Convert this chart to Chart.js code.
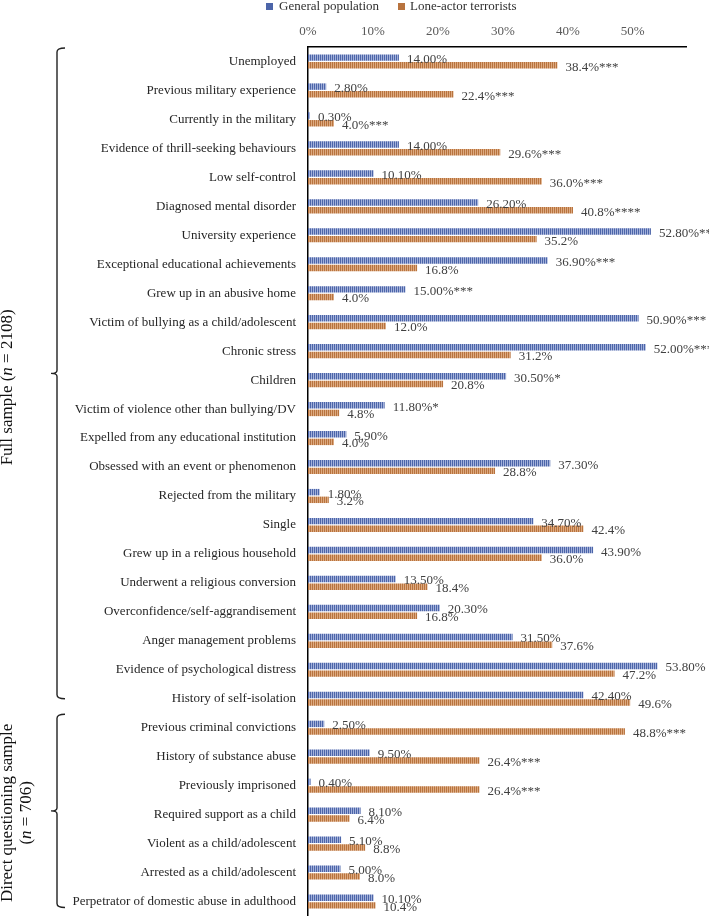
<!DOCTYPE html>
<html>
<head>
<meta charset="utf-8">
<script src="https://cdn.jsdelivr.net/npm/chart.js@4"></script>
<style>
  html, body { margin: 0; padding: 0; background: #fff; overflow: hidden; }
  canvas { display: block; }
</style>
</head>
<body>
<canvas id="chart" width="709" height="916"></canvas>
<script>
const categories = [
  "Unemployed",
  "Previous military experience",
  "Currently in the military",
  "Evidence of thrill-seeking behaviours",
  "Low self-control",
  "Diagnosed mental disorder",
  "University experience",
  "Exceptional educational achievements",
  "Grew up in an abusive home",
  "Victim of bullying as a child/adolescent",
  "Chronic stress",
  "Children",
  "Victim of violence other than bullying/DV",
  "Expelled from any educational institution",
  "Obsessed with an event or phenomenon",
  "Rejected from the military",
  "Single",
  "Grew up in a religious household",
  "Underwent a religious conversion",
  "Overconfidence/self-aggrandisement",
  "Anger management problems",
  "Evidence of psychological distress",
  "History of self-isolation",
  "Previous criminal convictions",
  "History of substance abuse",
  "Previously imprisoned",
  "Required support as a child",
  "Violent as a child/adolescent",
  "Arrested as a child/adolescent",
  "Perpetrator of domestic abuse in adulthood",
];

const generalPop = [
  14.0, 2.8, 0.3, 14.0, 10.1, 26.2, 52.8, 36.9, 15.0, 50.9,
  52.0, 30.5, 11.8, 5.9, 37.3, 1.8, 34.7, 43.9, 13.5, 20.3,
  31.5, 53.8, 42.4, 2.5, 9.5, 0.4, 8.1, 5.1, 5.0, 10.1,
];
const generalSig = [
  "", "", "", "", "", "", "***", "***", "***", "***",
  "***", "*", "*", "", "", "", "", "", "", "",
  "", "", "", "", "", "", "", "", "", "",
];

const loneActors = [
  38.4, 22.4, 4.0, 29.6, 36.0, 40.8, 35.2, 16.8, 4.0, 12.0,
  31.2, 20.8, 4.8, 4.0, 28.8, 3.2, 42.4, 36.0, 18.4, 16.8,
  37.6, 47.2, 49.6, 48.8, 26.4, 26.4, 6.4, 8.8, 8.0, 10.4,
];
const loneSig = [
  "***", "***", "***", "***", "***", "****", "", "", "", "",
  "", "", "", "", "", "", "", "", "", "",
  "", "", "", "***", "***", "***", "", "", "", "",
];

// sample groups: first and last category index of each bracket
const groupFirst = [0, 23];
const groupLast = [22, 29];
const groupLines = [
  [["Full sample (", false], ["n", true], [" = 2108)", false]],
  [["Direct questioning sample", false]],
];
const groupLines2 = [
  null,
  [["(", false], ["n", true], [" = 706)", false]],
];

const FONT = "'Liberation Serif', 'Times New Roman', serif";
const BLUE = "#4C65A9";
const ORANGE = "#B8733E";

function stripes(base, light) {
  const c = document.createElement("canvas");
  c.width = 2;
  c.height = 2;
  const g = c.getContext("2d");
  g.fillStyle = base;
  g.fillRect(0, 0, 2, 2);
  g.fillStyle = light;
  g.fillRect(1, 0, 1, 2);
  return g.createPattern(c, "repeat");
}

const valueLabels = {
  id: "valueLabels",
  afterDatasetsDraw(chart) {
    const ctx = chart.ctx;
    ctx.save();
    ctx.font = "13px " + FONT;
    ctx.fillStyle = "#404040";
    ctx.textAlign = "left";
    ctx.textBaseline = "middle";
    chart.data.datasets.forEach((ds, di) => {
      const meta = chart.getDatasetMeta(di);
      meta.data.forEach((bar, i) => {
        const v = ds.data[i];
        const txt = di === 0
          ? v.toFixed(2) + "%" + generalSig[i]
          : v.toFixed(1) + "%" + loneSig[i];
        ctx.fillText(txt, bar.x + 8, bar.y + 2);
      });
    });
    ctx.restore();
  },
};

const legendAndBrackets = {
  id: "legendAndBrackets",
  afterDraw(chart) {
    const ctx = chart.ctx;
    const y = chart.scales.y;
    ctx.save();

    // legend
    ctx.font = "13px " + FONT;
    ctx.textBaseline = "middle";
    ctx.fillStyle = BLUE;
    ctx.fillRect(266, 3, 7, 7);
    ctx.fillStyle = ORANGE;
    ctx.fillRect(398, 3, 7, 7);
    ctx.fillStyle = "#303030";
    ctx.fillText(chart.data.datasets[0].label, 279, 7);
    ctx.fillText(chart.data.datasets[1].label, 410, 7);

    // brackets
    const rowH = y.getPixelForValue(1) - y.getPixelForValue(0);
    const bx = 57;
    const labelShift = [14, 2];
    ctx.strokeStyle = "#222";
    ctx.lineWidth = 1.4;
    groupFirst.forEach((first, gi) => {
      const top = y.getPixelForValue(first) - rowH / 2 + 1;
      const bottom = y.getPixelForValue(groupLast[gi]) + (gi === 0 ? 0 : 6);
      const mid = (top + bottom) / 2;
      ctx.beginPath();
      ctx.moveTo(bx + 8, top);
      ctx.quadraticCurveTo(bx, top, bx, top + 4);
      ctx.lineTo(bx, mid - 3);
      ctx.quadraticCurveTo(bx, mid, bx - 6, mid);
      ctx.quadraticCurveTo(bx, mid, bx, mid + 3);
      ctx.lineTo(bx, bottom - 4);
      ctx.quadraticCurveTo(bx, bottom, bx + 8, bottom);
      ctx.stroke();

      const lines = groupLines2[gi] ? [groupLines[gi], groupLines2[gi]] : [groupLines[gi]];
      ctx.save();
      ctx.translate(0, mid + labelShift[gi]);
      ctx.rotate(-Math.PI / 2);
      ctx.fillStyle = "#111";
      ctx.textBaseline = "middle";
      lines.forEach((parts, li) => {
        let total = 0;
        parts.forEach(([t, it]) => {
          ctx.font = (it ? "italic " : "") + "17px " + FONT;
          total += ctx.measureText(t).width;
        });
        let x = -total / 2;
        parts.forEach(([t, it]) => {
          ctx.font = (it ? "italic " : "") + "17px " + FONT;
          ctx.fillText(t, x, 8 + li * 19);
          x += ctx.measureText(t).width;
        });
      });
      ctx.restore();
    });
    ctx.restore();
  },
};

const canvas = document.getElementById("chart");

new Chart(canvas, {
  type: "bar",
  data: {
    labels: categories,
    datasets: [
      {
        label: "General population",
        data: generalPop,
        backgroundColor: stripes(BLUE, "#A3B1DA"),
        categoryPercentage: 0.53,
        barPercentage: 0.84,
      },
      {
        label: "Lone-actor terrorists",
        data: loneActors,
        backgroundColor: stripes(ORANGE, "#DDAA80"),
        categoryPercentage: 0.53,
        barPercentage: 0.84,
      },
    ],
  },
  options: {
    indexAxis: "y",
    responsive: false,
    animation: false,
    layout: { padding: { top: 0, right: 23, bottom: 0, left: 0 } },
    plugins: {
      legend: { display: false },
      tooltip: { enabled: false },
    },
    scales: {
      x: {
        position: "top",
        min: 0,
        max: 58.2,
        afterBuildTicks: (scale) => {
          scale.ticks = scale.ticks.filter((t) => t.value % 10 === 0 && t.value <= 50);
        },
        afterFit: (scale) => {
          scale.height = 47;
          scale.paddingLeft = 0;
          scale.paddingRight = 0;
        },
        ticks: {
          stepSize: 10,
          padding: 8,
          color: "#595959",
          font: { family: FONT, size: 13 },
          callback: (v) => v + "%",
        },
        grid: { display: false, drawTicks: false },
        border: { display: true, color: "#000", width: 1.5 },
      },
      y: {
        afterFit: (scale) => {
          scale.width = 308;
          scale.paddingTop = 0;
          scale.paddingBottom = 0;
        },
        ticks: {
          padding: 12,
          color: "#262626",
          font: { family: FONT, size: 13 },
        },
        grid: { display: false, drawTicks: false },
        border: { display: true, color: "#000", width: 1.5 },
      },
    },
  },
  plugins: [valueLabels, legendAndBrackets],
});
</script>
</body>
</html>
